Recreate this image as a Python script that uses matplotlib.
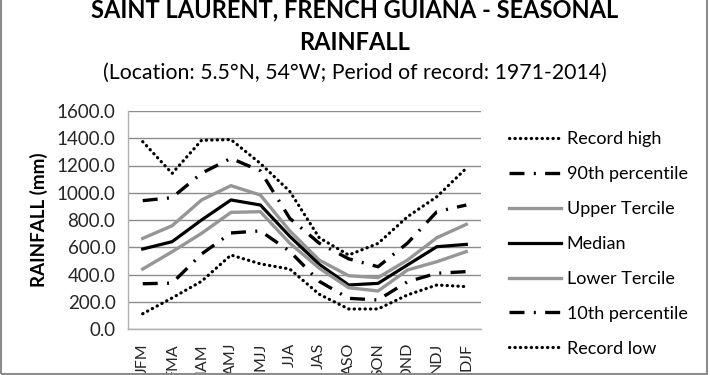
import numpy as np
import matplotlib
matplotlib.use("Agg")
import matplotlib.pyplot as plt
from matplotlib.patches import Rectangle

seasons = ["JFM", "FMA", "MAM", "AMJ", "MJJ", "JJA",
           "JAS", "ASO", "SON", "OND", "NDJ", "DJF"]

record_high = [1375, 1142, 1385, 1390, 1215, 1010, 670, 543, 628, 824, 971, 1180]
pct_90 = [942, 964, 1143, 1253, 1160, 812, 630, 515, 457, 630, 861, 910]
upper_tercile = [665, 758, 947, 1052, 983, 720, 506, 391, 377, 506, 670, 768]
median = [587, 641, 800, 947, 910, 680, 475, 323, 335, 470, 604, 621]
lower_tercile = [440, 567, 702, 856, 861, 630, 447, 303, 279, 433, 494, 568]
pct_10 = [332, 337, 550, 705, 720, 570, 350, 225, 213, 347, 409, 421]
record_low = [112, 228, 350, 543, 478, 440, 255, 147, 147, 250, 323, 311]

yticks = np.arange(0, 1601, 200)

plt.rcParams['font.family'] = ['Lato', 'DejaVu Sans']

fig = plt.figure(figsize=(7.1, 3.75), dpi=100)
ax = fig.add_axes([128 / 710, 46 / 375, 353 / 710, 218 / 375])

x = np.arange(len(seasons))
dot = (0, (0.1, 1.6))
dashdot = (0, (4.5, 2.8, 0.6, 2.8))

series = [
    ("Record high", record_high, "black", 2.3, dot),
    ("90th percentile", pct_90, "black", 2.4, dashdot),
    ("Upper Tercile", upper_tercile, "#969696", 2.4, "-"),
    ("Median", median, "black", 2.3, "-"),
    ("Lower Tercile", lower_tercile, "#969696", 2.4, "-"),
    ("10th percentile", pct_10, "black", 2.4, dashdot),
    ("Record low", record_low, "black", 2.3, dot),
]
for name, vals, col, lw, ls in series:
    ax.plot(x, vals, color=col, lw=lw, linestyle=ls, label=name,
            dash_capstyle="round" if ls is dot else "butt",
            solid_joinstyle="miter")

ax.set_xlim(-0.5, len(seasons) - 0.5)
ax.set_ylim(0, 1600)
ax.set_yticks(yticks)
ax.set_yticklabels([f"{v:.1f}" for v in yticks], fontsize=13.5, color="#262626")
ax.set_xticks(x)
ax.set_xticklabels(seasons, rotation=90, fontsize=11.5, color="#262626")
ax.tick_params(length=0)
ax.tick_params(axis="x", pad=10)
ax.tick_params(axis="y", pad=9)
ax.grid(axis="y", color="#8c8c8c", lw=1)
ax.set_axisbelow(True)
for s in ["top", "right"]:
    ax.spines[s].set_visible(False)
for s in ["left", "bottom"]:
    ax.spines[s].set_color("#b0b0b0")
    ax.spines[s].set_linewidth(1)

ax.set_ylabel("RAINFALL (mm)", fontsize=13.5, fontweight="bold", labelpad=6)

fig.text(0.5, 1 - 10 / 375, "SAINT LAURENT, FRENCH GUIANA - SEASONAL",
         ha="center", va="center", fontsize=17, fontweight="bold")
fig.text(0.5, 1 - 42 / 375, "RAINFALL", ha="center", va="center",
         fontsize=17, fontweight="bold")
fig.text(0.5, 1 - 73 / 375, "(Location: 5.5°N, 54°W; Period of record: 1971-2014)",
         ha="center", va="center", fontsize=15.3)

fig.legend(loc="upper left", bbox_to_anchor=(509 / 710, 1 - 131 / 375),
           frameon=False, fontsize=13, handlelength=2.9, handletextpad=0.3,
           labelspacing=1.05, borderpad=0, borderaxespad=0)

fig.patches.append(Rectangle((0.002, 0.002), 0.994, 1.2, transform=fig.transFigure,
                             fill=False, edgecolor="#8c8c8c", lw=1.5))

fig.savefig("out.png", dpi=100)
